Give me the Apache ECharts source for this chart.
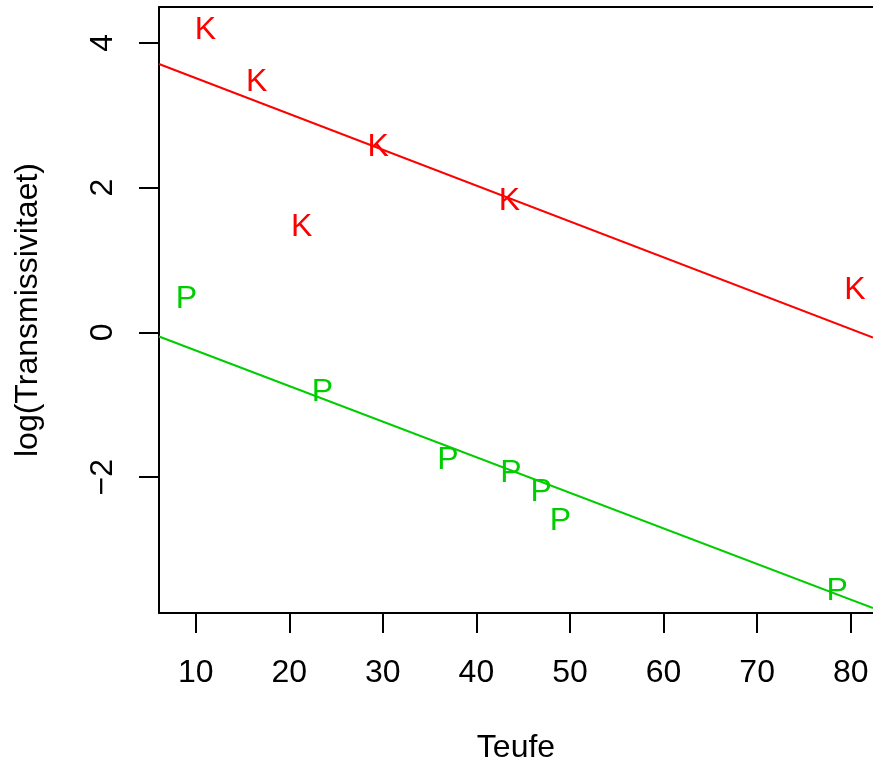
<!DOCTYPE html>
<html>
<head>
<meta charset="utf-8">
<script src="https://cdn.jsdelivr.net/npm/echarts@6/dist/echarts.min.js"></script>
<style>
html,body{margin:0;padding:0;background:#fff;}
#chart{width:873px;height:769px;}
</style>
</head>
<body>
<div id="chart"></div>
<script>
// Data
const teufeK = [11.03, 16.52, 29.51, 43.52, 21.33, 80.46];
const logTK  = [4.175, 3.458, 2.563, 1.817, 1.459, 0.579];
const teufeP = [9.02, 23.55, 36.96, 43.68, 46.93, 48.99, 78.56];
const logTP  = [0.455, -0.821, -1.770, -1.945, -2.207, -2.610, -3.577];
const fitK = [4.011, -0.04953];   // intercept, slope
const fitP = [0.244, -0.04917];   // intercept, slope
const xTicks = [10, 20, 30, 40, 50, 60, 70, 80];
const yTicks = [-2, 0, 2, 4];
const xRange = [6.08, 82.38];
const yRange = [-3.876, 4.497];

const FONT = "'Liberation Sans', Arial, Helvetica, sans-serif";
const RED = '#FF0000', GREEN = '#00CD00';

function pts(xs, ys){ return xs.map((x,i)=>[x, ys[i]]); }
function fitLine(f){ return xRange.map(x=>[x, f[0] + f[1]*x]); }

function letterSeries(name, data, letter, color){
  return {
    name, type:'scatter', data, symbol:'circle', symbolSize:2,
    itemStyle:{color:'rgba(0,0,0,0)'}, silent:true,
    labelLayout:{hideOverlap:false},
    label:{show:true, position:'inside', padding:[6,0,0,0], formatter:letter, color,
           fontFamily:FONT, fontSize:32, opacity:1}
  };
}

const chart = echarts.init(document.getElementById('chart'), null, {renderer:'canvas'});
chart.setOption({
  animation:false,
  backgroundColor:'#fff',
  grid:{left:159, right:0, top:7, bottom:155, containLabel:false},
  xAxis:[{
    type:'value', min:xRange[0], max:xRange[1], position:'bottom',
    name:'Teufe', nameLocation:'middle', nameGap:119,
    nameTextStyle:{fontFamily:FONT, fontSize:32, color:'#000'},
    axisLine:{show:true, onZero:false, lineStyle:{color:'#000', width:2}},
    axisTick:{show:true, inside:false, length:20, customValues:xTicks, lineStyle:{color:'#000', width:2}},
    axisLabel:{show:true, customValues:xTicks, margin:44, fontFamily:FONT, fontSize:32, color:'#000'},
    splitLine:{show:false}
  },{
    type:'value', min:xRange[0], max:xRange[1], position:'top',
    axisLine:{show:true, onZero:false, lineStyle:{color:'#000', width:2}},
    axisTick:{show:false}, axisLabel:{show:false}, splitLine:{show:false}
  }],
  yAxis:[{
    type:'value', min:yRange[0], max:yRange[1], position:'left',
    name:'log(Transmissivitaet)', nameLocation:'middle', nameGap:115,
    nameTextStyle:{fontFamily:FONT, fontSize:32, color:'#000'},
    axisLine:{show:true, onZero:false, lineStyle:{color:'#000', width:2}},
    axisTick:{show:true, inside:false, length:20, customValues:yTicks, lineStyle:{color:'#000', width:2}},
    axisLabel:{show:true, customValues:yTicks, rotate:90, margin:40, fontFamily:FONT, fontSize:32, color:'#000',
      formatter:v=> v<0 ? '\u2212'+Math.abs(v) : String(v)},
    splitLine:{show:false}
  }],
  series:[
    {type:'line', data:fitLine(fitK), showSymbol:false, lineStyle:{color:RED, width:2}, clip:true, silent:true, z:1},
    {type:'line', data:fitLine(fitP), showSymbol:false, lineStyle:{color:GREEN, width:2}, clip:true, silent:true, z:1},
    letterSeries('K', pts(teufeK, logTK), 'K', RED),
    letterSeries('P', pts(teufeP, logTP), 'P', GREEN)
  ]
});
</script>
</body>
</html>
